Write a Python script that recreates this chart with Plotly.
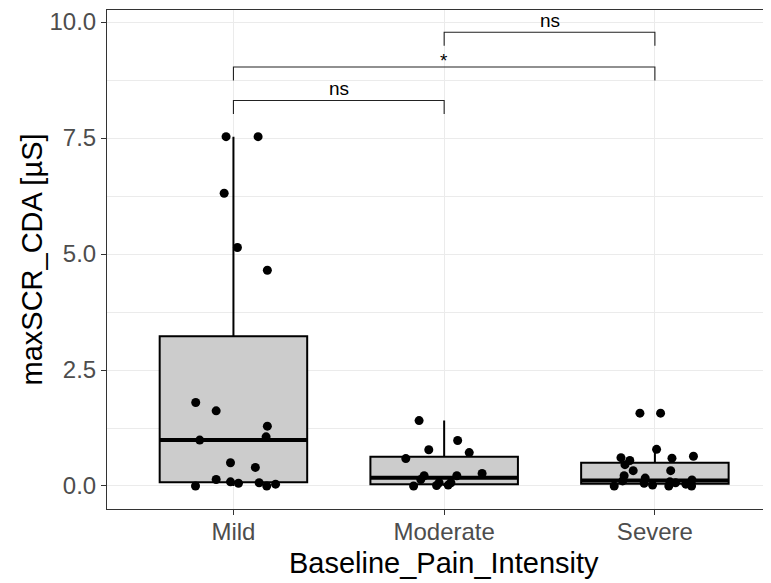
import plotly.graph_objects as go

# ---------------- data ----------------
categories = ["Mild", "Moderate", "Severe"]

# box statistics
q1 = [0.08, 0.04, 0.05]
median = [0.99, 0.18, 0.12]
q3 = [3.23, 0.63, 0.50]
lower_fence = [0.0, 0.0, 0.0]
upper_fence = [7.53, 1.41, 0.79]

# individual observations (value, horizontal jitter offset)
mild_values = [7.53, 7.53, 6.31, 5.14, 4.65, 1.80, 1.62, 1.29, 1.06, 0.99,
               0.50, 0.40, 0.14, 0.09, 0.06, 0.07, 0.00, 0.00, 0.04]
mild_jitter = [-0.035, 0.117, -0.044, 0.019, 0.161, -0.179, -0.082, 0.161, 0.155, -0.160,
               -0.014, 0.104, -0.082, -0.014, 0.024, 0.122, -0.180, 0.158, 0.200]

moderate_values = [1.41, 0.98, 0.78, 0.72, 0.59, 0.27, 0.22, 0.22, 0.14,
                   0.00, 0.01, 0.07, 0.02, 0.07]
moderate_jitter = [-0.119, 0.064, -0.073, 0.119, -0.182, 0.180, -0.095, 0.060, -0.111,
                   -0.145, -0.036, -0.024, 0.019, 0.032]

severe_values = [1.57, 1.57, 0.79, 0.61, 0.55, 0.60, 0.64, 0.46, 0.33, 0.33, 0.22,
                 0.11, 0.17, 0.06, 0.02, 0.00, 0.07, 0.04, 0.00, 0.13, 0.00, 0.09]
severe_jitter = [-0.071, 0.027, 0.008, -0.161, -0.119, 0.081, 0.183, -0.142, -0.103, 0.075, -0.146,
                 -0.153, -0.046, -0.051, -0.011, 0.066, 0.098, 0.147, 0.174, 0.176, -0.193, 0.071]

# significance brackets
bracket_start = [1, 1, 2]
bracket_end = [2, 3, 3]
bracket_y = [8.31, 9.03, 9.78]
bracket_labels = ["ns", "*", "ns"]
tip_length = 0.29

y_ticks = [0.0, 2.5, 5.0, 7.5, 10.0]

x_title = "Baseline_Pain_Intensity"
y_title = "maxSCR_CDA [µS]"

# ---------------- figure ----------------
fig = go.Figure()
positions = [1, 2, 3]
box_width = 0.7
FONT = "Liberation Sans, Arial, sans-serif"

for i, pos in enumerate(positions):
    fig.add_trace(go.Box(
        x=[pos], q1=[q1[i]], median=[median[i]], q3=[q3[i]],
        lowerfence=[lower_fence[i]], upperfence=[upper_fence[i]],
        width=box_width, whiskerwidth=0, boxpoints=False,
        fillcolor="#CCCCCC", line=dict(color="#000000", width=2),
        showlegend=False, hoverinfo="skip"))

# thick median lines
for i, pos in enumerate(positions):
    fig.add_trace(go.Scatter(
        x=[pos - box_width / 2, pos + box_width / 2], y=[median[i], median[i]],
        mode="lines", line=dict(color="#000000", width=4),
        showlegend=False, hoverinfo="skip"))

groups = [(mild_values, mild_jitter), (moderate_values, moderate_jitter),
          (severe_values, severe_jitter)]
for pos, (vals, jit) in zip(positions, groups):
    fig.add_trace(go.Scatter(
        x=[pos + j for j in jit], y=vals, mode="markers",
        marker=dict(color="#000000", size=9, line=dict(width=0)),
        showlegend=False, hoverinfo="skip"))

annotations = []
for s, e, yb, lab in zip(bracket_start, bracket_end, bracket_y, bracket_labels):
    fig.add_trace(go.Scatter(
        x=[s, s, e, e], y=[yb - tip_length, yb, yb, yb - tip_length],
        mode="lines", line=dict(color="#222222", width=1.1),
        showlegend=False, hoverinfo="skip"))
    annotations.append(dict(
        x=(s + e) / 2, y=yb, xref="x", yref="y", text=lab, showarrow=False,
        yanchor="bottom", xanchor="center", yshift=(-6 if lab == "*" else -1),
        font=dict(family=FONT, size=19, color="#000000")))

# axis titles as annotations
annotations.append(dict(
    x=2, y=-0.108, xref="x", yref="paper", text=x_title, showarrow=False,
    xanchor="center", yanchor="middle",
    font=dict(family=FONT, size=29, color="#000000")))
annotations.append(dict(
    x=-0.113, y=0.5, xref="paper", yref="paper", text=y_title, showarrow=False,
    textangle=-90, xanchor="center", yanchor="middle",
    font=dict(family=FONT, size=29, color="#000000")))

# the page body adds an 8px margin, so the figure is sized to fit the window
fig.update_layout(
    width=763, height=575,
    margin=dict(l=99, r=0, t=2, b=74, autoexpand=False),
    paper_bgcolor="white", plot_bgcolor="white",
    font=dict(family=FONT),
    annotations=annotations,
    xaxis=dict(
        range=[0.4, 3.551], tickvals=positions, ticktext=categories,
        automargin=False, ticklabelstandoff=-4,
        showgrid=True, gridcolor="#EBEBEB", gridwidth=1.4,
        showline=True, linecolor="#333333", linewidth=1, mirror=True,
        ticks="outside", ticklen=5, tickcolor="#333333", tickwidth=1,
        tickfont=dict(size=24, color="#4D4D4D"), zeroline=False),
    yaxis=dict(
        range=[-0.496, 10.26], tickvals=y_ticks, ticktext=[f"{v:.1f}" for v in y_ticks],
        automargin=False,
        showgrid=True, gridcolor="#EBEBEB", gridwidth=1.4,
        minor=dict(tickvals=[1.25, 3.75, 6.25, 8.75], showgrid=True,
                   gridcolor="#EBEBEB", gridwidth=0.7, ticks=""),
        showline=True, linecolor="#333333", linewidth=1, mirror=False,
        ticks="outside", ticklen=5, tickcolor="#333333", tickwidth=1,
        tickfont=dict(size=24, color="#4D4D4D"), zeroline=False),
)

fig.write_html("out.html")
